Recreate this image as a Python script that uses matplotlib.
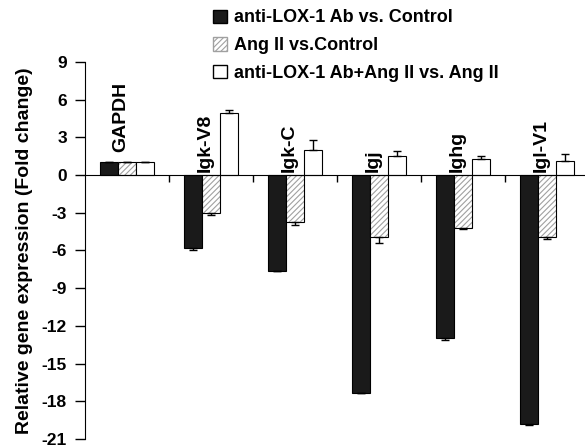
import numpy as np
import matplotlib.pyplot as plt
from matplotlib.patches import Patch

plt.rcParams['font.family'] = ['Liberation Sans', 'DejaVu Sans']
plt.rcParams['font.weight'] = 'bold'
plt.rcParams['axes.unicode_minus'] = False
plt.rcParams['hatch.linewidth'] = 0.8

# data
genes = ["GAPDH", "Igk-V8", "Igk-C", "Igj", "Ighg", "Igl-V1"]
series_names = ["anti-LOX-1 Ab vs. Control", "Ang II vs.Control", "anti-LOX-1 Ab+Ang II vs. Ang II"]
lox_vals = [1.0, -5.8, -7.6, -17.3, -13.0, -19.8]
lox_err = [0.0, 0.15, 0.05, 0.05, 0.1, 0.1]
ang_vals = [1.0, -3.0, -3.7, -4.9, -4.2, -4.9]
ang_err = [0.0, 0.2, 0.3, 0.5, 0.1, 0.2]
combo_vals = [1.0, 4.9, 2.0, 1.5, 1.3, 1.1]
combo_err = [0.0, 0.3, 0.8, 0.4, 0.2, 0.6]

fig = plt.figure(figsize=(5.85, 4.48), dpi=100)
ax = fig.add_axes([0.145, 0.02, 0.855, 0.842])

x = np.arange(len(genes))
w = 0.215

def one_sided(vals, errs):
    vals = np.array(vals)
    errs = np.array(errs)
    lower = np.where(vals < 0, errs, 0)
    upper = np.where(vals >= 0, errs, 0)
    return [lower, upper]

ekw = dict(elinewidth=1, ecolor='black', capthick=1)
# black bars
ax.bar(x - w, lox_vals, w, color='#1a1a1a', edgecolor='black', linewidth=0.8,
       yerr=one_sided(lox_vals, lox_err), capsize=3, error_kw=ekw)
# hatched bars: hatch pass then outline pass
ax.bar(x, ang_vals, w, color='white', edgecolor='#a0a0a0', hatch='//////', linewidth=0)
ax.bar(x, ang_vals, w, fill=False, edgecolor='black', linewidth=0.8,
       yerr=one_sided(ang_vals, ang_err), capsize=3, error_kw=ekw)
# white bars
ax.bar(x + w, combo_vals, w, color='white', edgecolor='black', linewidth=0.8,
       yerr=one_sided(combo_vals, combo_err), capsize=3, error_kw=ekw)

# gene labels above the groups
for i, g in enumerate(genes):
    ly = lox_vals[i] + 0.8 if lox_vals[i] > 0 else 0.25
    ax.text(x[i] - 0.07, ly, g, rotation=90, ha='center', va='bottom',
            fontsize=14, fontweight='bold')

ax.set_xlim(-0.5, 5.45)
ax.set_ylim(-21, 9)
ax.set_yticks(np.arange(-21, 10, 3))
ax.set_xticks(x[:-1] + 0.5)
ax.set_xticklabels([])
ax.spines['bottom'].set_position(('data', 0))
ax.spines['top'].set_visible(False)
ax.spines['right'].set_visible(False)
ax.tick_params(axis='x', direction='out', length=5, width=1)
ax.tick_params(axis='y', direction='out', length=7, width=1, pad=6, labelsize=12.5)
for lab in ax.get_yticklabels():
    lab.set_fontweight('bold')
ax.set_ylabel("Relative gene expression (Fold change)", fontsize=14, fontweight='bold', labelpad=6)

handles = [Patch(facecolor='#1a1a1a', edgecolor='black'),
           Patch(facecolor='white', edgecolor='#a0a0a0', hatch='//////'),
           Patch(facecolor='white', edgecolor='black')]
fig.legend(handles, series_names, loc='upper left', bbox_to_anchor=(0.352, 0.995),
           frameon=False, fontsize=13, handlelength=0.75, handleheight=0.75,
           handletextpad=0.4, labelspacing=0.6, borderaxespad=0.0)

fig.savefig("out.png", dpi=100)
